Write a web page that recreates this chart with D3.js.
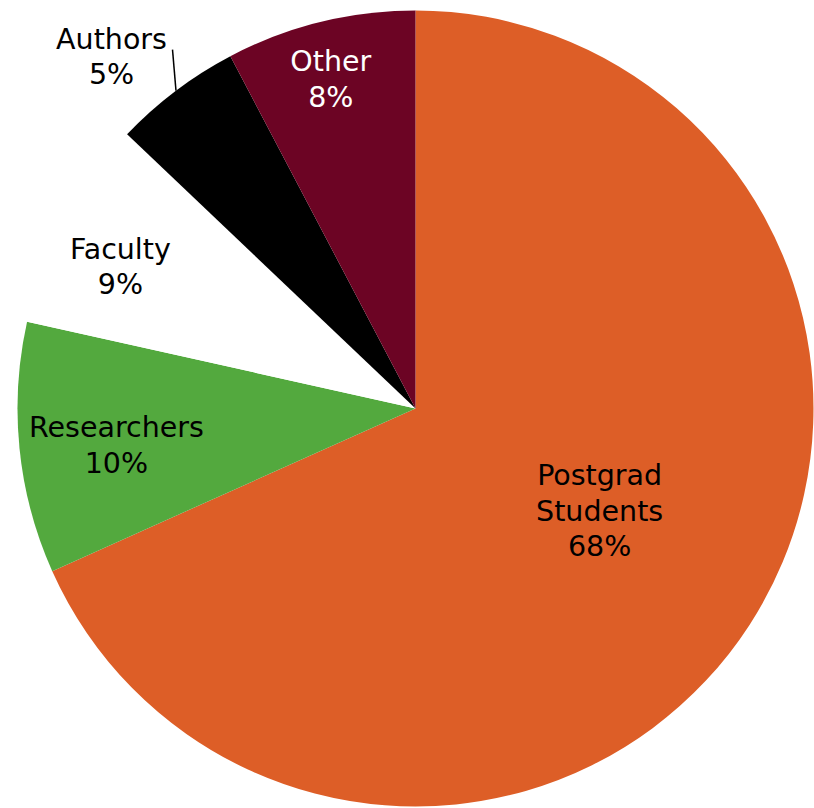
<!DOCTYPE html>
<html><head><meta charset="utf-8">
<script src="https://cdn.jsdelivr.net/npm/d3@7"></script>
<style>html,body{margin:0;padding:0;background:#fff;}svg{display:block;}</style>
</head><body>
<script>
const categories = ["Postgrad Students", "Researchers", "Faculty", "Authors", "Other"];
const values = [68.3, 10.2, 8.6, 5.2, 7.7];
const nameLines = [["Postgrad", "Students"], ["Researchers"], ["Faculty"], ["Authors"], ["Other"]];
const colors = ["#DD5E27", "#53A93E", "#FFFFFF", "#000000", "#6C0424"];
const textColors = ["#000", "#000", "#000", "#000", "#fff"];
// label placement: radius fraction and angle (deg, clockwise from top)
const labelR = [0.529, 0.757, 0.823, 1.169, 0.856];
const labelA = [119, 263.1, 295.7, 319.2, 345.6];

const W = 814, H = 808;
const cx = 415.5, cy = 408.5, R = 398;
const svg = d3.select("body").append("svg").attr("width", W).attr("height", H);
const g = svg.append("g").attr("transform", `translate(${cx},${cy})`);

const total = d3.sum(values);
const data = categories.map((c, i) => ({ name: c, value: values[i], i }));
const pie = d3.pie().value(d => d.value).sort(null).startAngle(0).endAngle(2 * Math.PI);
const arcs = pie(data);
const arc = d3.arc().innerRadius(0).outerRadius(R);

g.selectAll("path.slice").data(arcs).enter().append("path")
  .attr("class", "slice")
  .attr("d", arc)
  .attr("fill", d => colors[d.data.i]);

const rad = a => a * Math.PI / 180;
const polar = (r, a) => [r * Math.sin(rad(a)), -r * Math.cos(rad(a))];

// leader line for Authors
const p1 = polar(R * 1.0, 323), p2 = polar(R * 1.089, 325.9);
g.append("line").attr("x1", p1[0]).attr("y1", p1[1]).attr("x2", p2[0]).attr("y2", p2[1])
  .attr("stroke", "#000").attr("stroke-width", 1.5);

const lh = 35.5;
arcs.forEach(d => {
  const i = d.data.i;
  const [x, y] = polar(R * labelR[i], labelA[i]);
  const lines = nameLines[i].concat([Math.round(d.data.value / total * 100) + "%"]);
  const t = g.append("text")
    .attr("x", x).attr("y", y)
    .attr("text-anchor", "middle")
    .attr("font-family", "'DejaVu Sans', Verdana, sans-serif")
    .attr("font-size", 28.5)
    .attr("fill", textColors[i]);
  lines.forEach((l, k) => {
    t.append("tspan").attr("x", x)
      .attr("y", y + (k - (lines.length - 1) / 2) * lh)
      .attr("dy", "0.36em")
      .text(l);
  });
});
</script>
</body></html>
